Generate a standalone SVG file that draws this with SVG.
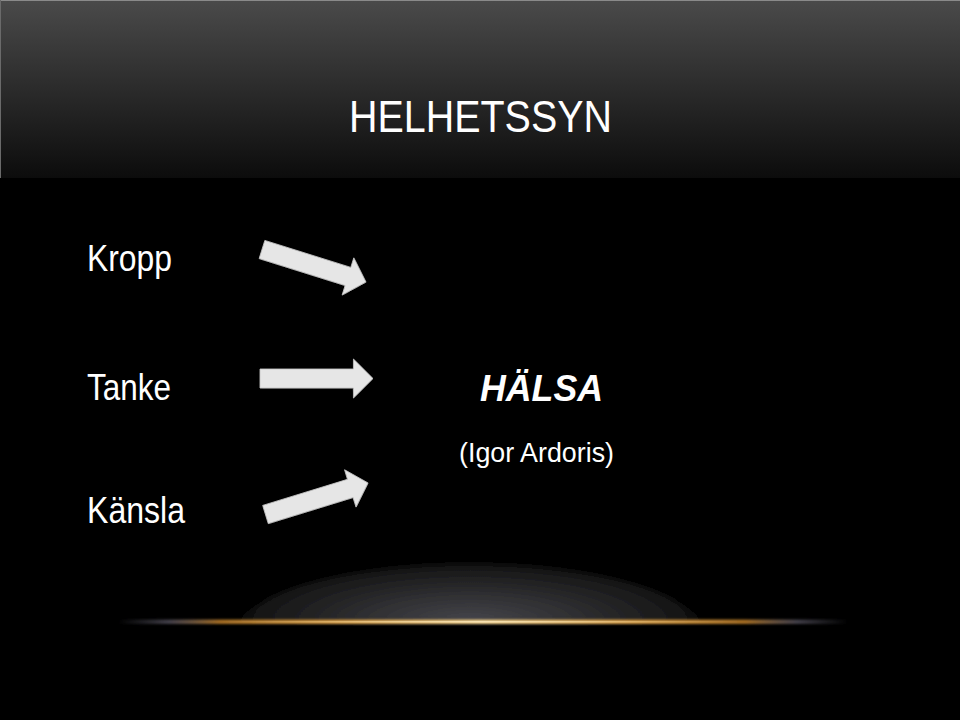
<svg xmlns="http://www.w3.org/2000/svg" width="960" height="720" viewBox="0 0 960 720">
  <defs>
    <linearGradient id="hdr" x1="0" y1="0" x2="0" y2="1">
      <stop offset="0" stop-color="#4a4a4a"/>
      <stop offset="0.5" stop-color="#2b2b2b"/>
      <stop offset="1" stop-color="#0c0c0c"/>
    </linearGradient>
    <radialGradient id="dome" cx="470" cy="622" r="235" gradientUnits="userSpaceOnUse" gradientTransform="translate(470 622) scale(1 0.26) translate(-470 -622)">
      <stop offset="0" stop-color="#46464c"/>
      <stop offset="0.55" stop-color="#2a2a2c"/>
      <stop offset="0.9" stop-color="#161616"/>
      <stop offset="1" stop-color="#050505"/>
    </radialGradient>
    <linearGradient id="gold" x1="0" y1="0" x2="1" y2="0">
      <stop offset="0" stop-color="#50505c" stop-opacity="0"/>
      <stop offset="0.07" stop-color="#5c5866" stop-opacity="0.7"/>
      <stop offset="0.14" stop-color="#a06a22"/>
      <stop offset="0.3" stop-color="#d49a44"/>
      <stop offset="0.5" stop-color="#f2d28e"/>
      <stop offset="0.7" stop-color="#d49a44"/>
      <stop offset="0.86" stop-color="#a06a22"/>
      <stop offset="0.93" stop-color="#5c5866" stop-opacity="0.7"/>
      <stop offset="1" stop-color="#50505c" stop-opacity="0"/>
    </linearGradient>
    <linearGradient id="core" x1="0" y1="0" x2="1" y2="0">
      <stop offset="0" stop-color="#f7e0a8" stop-opacity="0"/>
      <stop offset="0.5" stop-color="#fbe8bc" stop-opacity="1"/>
      <stop offset="1" stop-color="#f7e0a8" stop-opacity="0"/>
    </linearGradient>
    <filter id="soft" x="-10%" y="-50%" width="120%" height="200%">
      <feGaussianBlur stdDeviation="2.5"/>
    </filter>
    <filter id="glow" x="-5%" y="-300%" width="110%" height="700%">
      <feGaussianBlur stdDeviation="1"/>
    </filter>
    <filter id="shadow" x="-10%" y="-30%" width="130%" height="160%">
      <feDropShadow dx="1" dy="1.5" stdDeviation="1" flood-color="#000" flood-opacity="0.6"/>
    </filter>
    <path id="arrow" d="M0,-9.5 L91,-9.5 L91,-19.5 L110,0 L91,19.5 L91,9.5 L0,9.5 Z"/>
    <style>
      .lbl { font-family: "Liberation Sans", Arial, sans-serif; fill: #ffffff; }
      .arr { fill: #e6e6e6; stroke: #c4c4c4; stroke-width: 0.8; }
    </style>
  </defs>

  <rect x="0" y="0" width="960" height="720" fill="#000000"/>
  <rect x="0" y="0" width="960" height="178" fill="url(#hdr)"/>
  <line x1="0" y1="0.5" x2="960" y2="0.5" stroke="#8a8a8a" stroke-width="1"/>
  <line x1="0.5" y1="0" x2="0.5" y2="178" stroke="#6a6a6a" stroke-width="1"/>

  <g id="title">
    <text class="lbl" x="349" y="132" font-size="45" textLength="263" lengthAdjust="spacingAndGlyphs">HELHETSSYN</text>
  </g>

  <g id="floor">
    <path d="M238,622 C262,586 362,563 470,563 C578,563 678,586 702,622 Z" fill="url(#dome)" filter="url(#soft)"/>
    <rect x="118" y="619.5" width="730" height="4.5" fill="url(#gold)" filter="url(#glow)"/>
    <rect x="220" y="621" width="520" height="1.5" fill="url(#core)" opacity="0.8"/>
  </g>

  <g id="kropp">
    <text class="lbl" x="87" y="271" font-size="36" textLength="85" lengthAdjust="spacingAndGlyphs">Kropp</text>
  </g>
  <g id="tanke">
    <text class="lbl" x="87" y="399.5" font-size="36" textLength="84" lengthAdjust="spacingAndGlyphs">Tanke</text>
  </g>
  <g id="kansla">
    <text class="lbl" x="87" y="523" font-size="36" textLength="98" lengthAdjust="spacingAndGlyphs">Känsla</text>
  </g>

  <g id="halsa">
    <text class="lbl" x="480" y="400.5" font-size="36" font-weight="bold" font-style="italic" textLength="123" lengthAdjust="spacingAndGlyphs">HÄLSA</text>
    <text class="lbl" x="459" y="461.5" font-size="27" textLength="155" lengthAdjust="spacingAndGlyphs">(Igor Ardoris)</text>
  </g>

  <g id="connectors" filter="url(#shadow)">
    <use href="#arrow" class="arr" transform="translate(262,249.5) rotate(17.4) scale(0.99,1)"/>
    <use href="#arrow" class="arr" transform="translate(260,378.5) scale(1.027,1)"/>
    <use href="#arrow" class="arr" transform="translate(265.5,514.5) rotate(-17.1) scale(0.975,1)"/>
  </g>
</svg>
